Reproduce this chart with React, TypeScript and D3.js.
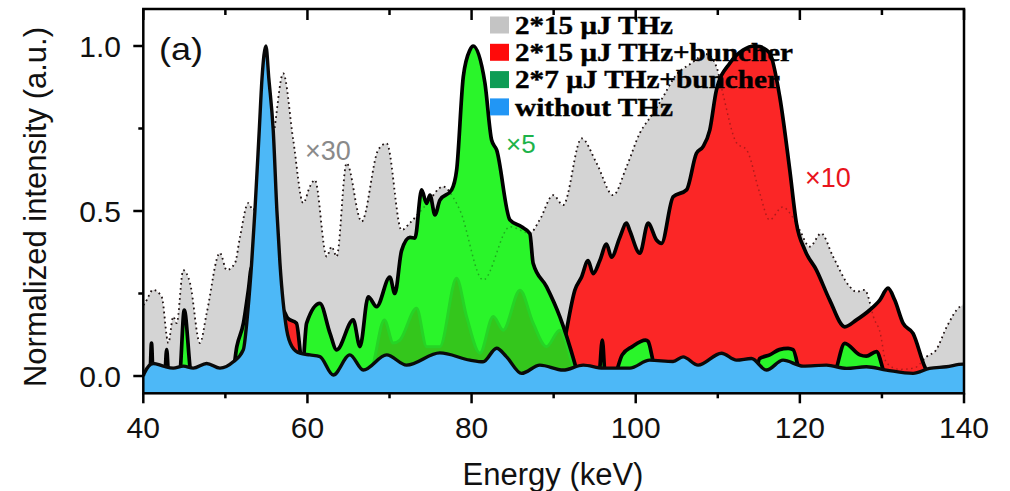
import React from "react";
import * as d3 from "d3";

type P = [number, number];

const xTicks = [40, 60, 80, 100, 120, 140];
const xMinor = [50, 70, 90, 110, 130];
const yTicks = [0, 0.5, 1.0];
const yMinor = [0.25, 0.75];

const legendLabels = ["2*15 μJ THz", "2*15 μJ THz+buncher", "2*7 μJ THz+buncher", "without THz"];
const legendColors = ["#c4c4c4", "#ff0a0a", "#0e9c55", "#2196f5"];
const legendWidths = [158, 278, 265, 158];

// 2*15 uJ THz (x30)
const grayData: P[] = [
  [40.0, 0.215], [40.2, 0.221], [41.2, 0.261], [42.24, 0.24], [43.05, 0.1], [43.65, 0.18], [44.07, 0.16],
  [44.87, 0.321], [45.69, 0.282], [46.9, 0.1], [47.72, 0.19], [49.34, 0.373], [50.16, 0.321], [51.17, 0.342],
  [51.78, 0.421], [52.79, 0.524], [53.36, 0.503], [54.5, 0.6], [55.83, 0.725], [57.05, 0.917], [58.27, 0.715],
  [59.49, 0.524], [60.3, 0.574], [60.91, 0.594], [62.34, 0.362], [62.95, 0.392], [63.56, 0.362], [64.77, 0.645],
  [66.6, 0.468], [68.62, 0.685], [69.65, 0.705], [71.47, 0.442], [72.49, 0.464], [74.5, 0.52], [76.54, 0.574],
  [77.72, 0.543], [78.57, 0.503], [81.41, 0.291], [84.67, 0.452], [87.1, 0.433], [88.3, 0.473], [89.94, 0.548],
  [91.16, 0.518], [93.4, 0.72], [95.23, 0.645], [97.25, 0.548], [98.88, 0.634], [100.5, 0.736], [102.12, 0.796],
  [103.34, 0.846], [104.76, 0.907], [106.8, 0.948], [108.62, 0.975], [109.84, 0.937], [110.6, 0.858],
  [112.3, 0.706], [113.52, 0.685], [115.1, 0.555], [116.3, 0.473], [117.9, 0.512], [119.1, 0.482],
  [119.98, 0.442], [121.2, 0.392], [122.6, 0.432], [124.04, 0.362], [126.07, 0.271], [126.9, 0.255],
  [127.9, 0.261], [129.1, 0.17], [129.7, 0.139], [130.55, 0.04], [132.2, 0.02], [134.0, 0.025], [135.4, 0.058],
  [136.6, 0.079], [137.9, 0.149], [139.5, 0.21], [140.0, 0.215],
];

// 2*15 uJ THz+buncher (x10)
const redData: P[] = [
  [40, 0], [56.6, 0], [57.0, 0.2], [57.6, 0.175], [58.66, 0.16], [59.09, 0.08], [59.4, 0], [90.3, 0],
  [90.75, 0.03], [91.57, 0.139], [92.58, 0.26], [93.4, 0.3], [94.2, 0.35], [94.81, 0.31], [95.63, 0.35],
  [96.44, 0.4], [97.05, 0.36], [98.06, 0.42], [98.88, 0.463], [99.28, 0.44], [100.5, 0.372], [101.51, 0.463],
  [102.53, 0.412], [103.14, 0.402], [104.56, 0.543], [106.19, 0.564], [107.4, 0.675], [108.21, 0.695],
  [109.02, 0.745], [109.84, 0.867], [111.46, 0.948], [113.08, 0.988], [114.5, 1.0], [115.11, 0.998],
  [116.33, 0.978], [117.55, 0.846], [118.77, 0.624], [119.58, 0.463], [120.6, 0.382], [122.02, 0.321],
  [123.64, 0.23], [125.47, 0.149], [126.9, 0.17], [128.52, 0.2], [129.74, 0.23], [130.74, 0.266],
  [131.56, 0.23], [132.57, 0.16], [133.79, 0.129], [135.22, 0.028], [135.8, 0], [140, 0],
];

// 2*7 uJ THz+buncher (x5)
const greenData: P[] = [
  [40, 0], [40.8, 0], [41.0, 0.1], [41.2, 0], [42.6, 0], [42.85, 0.08], [43.1, 0], [44.4, 0], [44.99, 0.2],
  [45.9, 0], [50.8, 0], [51.4, 0.09], [52.2, 0.16], [52.8, 0.26], [53.2, 0.33], [53.6, 0], [57.0, 0],
  [59.3, 0], [59.9, 0.16], [61.52, 0.22], [62.74, 0.13], [63.56, 0.079], [65.58, 0.17], [66.4, 0.089],
  [67.41, 0.24], [68.43, 0.21], [70.04, 0.3], [70.65, 0.25], [71.47, 0.38], [72.49, 0.42], [73.1, 0.418],
  [73.91, 0.564], [74.52, 0.523], [74.93, 0.548], [75.54, 0.488], [76.14, 0.533], [77.57, 0.564],
  [78.18, 0.624], [78.99, 0.907], [79.8, 0.988], [80.2, 1.0], [81.63, 0.887], [82.44, 0.715], [83.05, 0.685],
  [84.67, 0.473], [86.09, 0.452], [87.1, 0.432], [87.5, 0.342], [89.13, 0.271], [90.75, 0.18], [92.58, 0.038],
  [93.0, 0], [95.5, 0], [95.93, 0.109], [96.3, 0], [97.3, 0], [98.35, 0.064], [99.57, 0.089], [101.2, 0.109],
  [101.5, 0.105], [102.0, 0.058], [102.45, 0], [114.5, 0], [115.1, 0.053], [116.33, 0.064], [117.5, 0.08],
  [118.56, 0.084], [119.17, 0.08], [120.2, 0], [124.0, 0], [125.47, 0.099], [127.3, 0.064], [128.1, 0.06],
  [129.33, 0.074], [130.55, 0], [140, 0],
];

// darker inner green structure
const greenInnerData: P[] = [
  [67.5, 0], [67.95, 0.03], [69.37, 0.17], [70.45, 0.1], [71.27, 0.109], [73.3, 0.205], [74.52, 0.089],
  [76.14, 0.089], [78.17, 0.296], [79.39, 0.18], [81.02, 0.069], [82.64, 0.18], [83.85, 0.139], [85.9, 0.26],
  [87.5, 0.16], [89.13, 0.089], [90.75, 0.139], [92.37, 0.03], [92.8, 0],
];

// without THz
const blueData: P[] = [
  [40, 0], [40.12, 0.008], [41.22, 0.038], [42.44, 0.03], [43.65, 0.024], [44.87, 0.03], [46.09, 0.024],
  [47.72, 0.038], [49.34, 0.024], [50.96, 0.043], [52.18, 0.079], [52.75, 0.2], [53.2, 0.342], [53.6, 0.5],
  [54.13, 0.745], [54.46, 0.9], [54.94, 1.0], [55.3, 0.9], [55.83, 0.745], [56.28, 0.5], [56.65, 0.342],
  [57.47, 0.14], [58.1, 0.09], [59.09, 0.069], [60.3, 0.064], [61.52, 0.059], [63.14, 0.003], [65.17, 0.064],
  [66.8, 0.018], [69.65, 0.064], [72.08, 0.033], [76.14, 0.07], [79.8, 0.048], [81.4, 0.043], [83.05, 0.084],
  [84.26, 0.058], [86.09, 0.008], [88.32, 0.033], [91.16, 0.018], [93.6, 0.033], [96.03, 0.024],
  [99.28, 0.024], [101.7, 0.048], [104.55, 0.044], [105.77, 0.058], [107.6, 0.033], [110.45, 0.069],
  [112.28, 0.048], [114.1, 0.053], [115.93, 0.018], [117.95, 0.048], [120.39, 0.03], [123.24, 0.033],
  [125.68, 0.023], [128.1, 0.028], [130.55, 0.018], [133.79, 0.008], [135.8, 0.023], [137.86, 0.028],
  [139.88, 0.036], [140, 0.036],
];

const X0 = 143.3, X1 = 964, Y0 = 393.3, Y1 = 9;

export default function App() {
  const x = d3.scaleLinear().domain([40, 140]).range([X0, X1]);
  const y = d3.scaleLinear().domain([-0.0524, 1.1121]).range([Y0, Y1]);
  const curve = d3.curveMonotoneX;
  const area = d3.area<P>().x(d => x(d[0])).y0(Y0 + 2).y1(d => y(d[1])).curve(curve);
  const line = d3.line<P>().x(d => x(d[0])).y(d => y(d[1])).curve(curve);
  const sans = "'Liberation Sans', Arial, sans-serif";
  const serif = "'Liberation Serif', 'Times New Roman', serif";

  return (
    <svg width={1010} height={491} style={{ position: "absolute", left: 0, top: 0, background: "#fff" }}>
      <defs>
        <clipPath id="plot">
          <rect x={X0} y={Y1} width={X1 - X0} height={Y0 - Y1} />
        </clipPath>
      </defs>
      <g clipPath="url(#plot)">
        <path d={area(grayData) || ""} fill="#d4d4d4" />
        <path d={line(grayData) || ""} fill="none" stroke="#2a1a1a" strokeWidth={1.8} strokeDasharray="1.6 3.4" />
        <path d={area(redData) || ""} fill="#fb2626" />
        <path d={line(redData) || ""} fill="none" stroke="#000" strokeWidth={3.7} strokeLinejoin="round" />
        <path d={area(greenData) || ""} fill="#2af52a" />
        <path d={area(greenInnerData) || ""} fill="#34c61c" stroke="#26d426" strokeWidth={3} />
        <path d={line(grayData) || ""} fill="none" stroke="#000" strokeOpacity={0.3} strokeWidth={1.5} strokeDasharray="1.6 3.4" />
        <path d={line(greenData) || ""} fill="none" stroke="#000" strokeWidth={3.7} strokeLinejoin="round" />
        <path d={area(blueData) || ""} fill="#4db8f7" />
        <path d={line(blueData) || ""} fill="none" stroke="#0a0a0a" strokeWidth={3.4} strokeLinejoin="round" />
      </g>
      <rect x={X0} y={Y1} width={X1 - X0} height={Y0 - Y1} fill="none" stroke="#000" strokeWidth={2.5} />
      {xTicks.map(t => (
        <g key={"xt" + t}>
          <line x1={x(t)} x2={x(t)} y1={Y0} y2={Y0 + 10} stroke="#000" strokeWidth={2.5} />
          <line x1={x(t)} x2={x(t)} y1={Y1} y2={Y1 + 11} stroke="#000" strokeWidth={2.5} />
          <text x={x(t)} y={438} textAnchor="middle" fontFamily={sans} fontSize={30} fill="#111">{t}</text>
        </g>
      ))}
      {xMinor.map(t => (
        <g key={"xm" + t}>
          <line x1={x(t)} x2={x(t)} y1={Y0} y2={Y0 + 5} stroke="#000" strokeWidth={2.5} />
          <line x1={x(t)} x2={x(t)} y1={Y1} y2={Y1 + 6} stroke="#000" strokeWidth={2.5} />
        </g>
      ))}
      {yTicks.map(t => (
        <g key={"yt" + t}>
          <line x1={X0 - 10} x2={X0} y1={y(t)} y2={y(t)} stroke="#000" strokeWidth={2.5} />
          <text x={121} y={y(t) + 11} textAnchor="end" fontFamily={sans} fontSize={30} fill="#111">{t.toFixed(1)}</text>
        </g>
      ))}
      {yMinor.map(t => (
        <line key={"ym" + t} x1={X0 - 5} x2={X0} y1={y(t)} y2={y(t)} stroke="#000" strokeWidth={2.5} />
      ))}
      <text x={553} y={485} textAnchor="middle" fontFamily={sans} fontSize={31} fill="#111">Energy (keV)</text>
      <text transform="translate(46,207) rotate(-90)" textAnchor="middle" fontFamily={sans} fontSize={31} fill="#111">Normalized intensity (a.u.)</text>
      <text x={159} y={60} fontFamily={sans} fontSize={32} fill="#111" textLength={44} lengthAdjust="spacingAndGlyphs">(a)</text>
      <text x={305} y={160} fontFamily={sans} fontSize={27} fill="#8a8a8a">×30</text>
      <text x={506} y={153} fontFamily={sans} fontSize={26} fill="#1db34a">×5</text>
      <text x={805} y={187} fontFamily={sans} fontSize={27} fill="#e8141c">×10</text>
      {legendLabels.map((l, i) => (
        <g key={l}>
          <rect x={490} y={16.5 + 27.3 * i} width={19} height={17} fill={legendColors[i]} />
          <text x={515} y={34 + 27.2 * i} fontFamily={serif} fontWeight="bold" fontSize={25} fill="#000"
            stroke="#000" strokeWidth={0.4}
            textLength={legendWidths[i]} lengthAdjust="spacingAndGlyphs">{l}</text>
        </g>
      ))}
    </svg>
  );
}
